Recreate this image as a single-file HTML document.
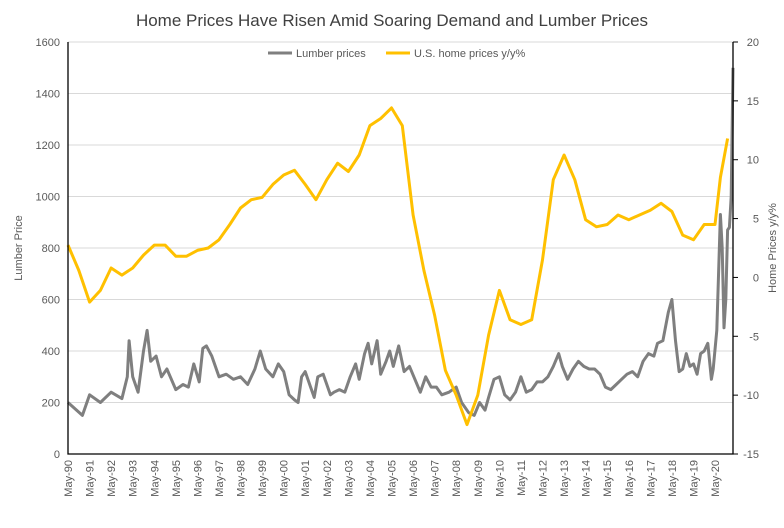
<!DOCTYPE html>
<html><head><meta charset="utf-8"><style>
body{margin:0;background:#fff;font-family:"Liberation Sans",sans-serif}
svg text{font-family:"Liberation Sans",sans-serif}
</style></head><body>
<svg id="c" width="784" height="523" xmlns="http://www.w3.org/2000/svg">
<text x="392" y="26" text-anchor="middle" font-size="17" fill="#404040">Home Prices Have Risen Amid Soaring Demand and Lumber Prices</text>
<g>
<line x1="268" y1="53" x2="292" y2="53" stroke="#7f7f7f" stroke-width="3"/>
<text x="296" y="57" font-size="11" fill="#595959">Lumber prices</text>
<line x1="386" y1="53" x2="410" y2="53" stroke="#ffc000" stroke-width="3"/>
<text x="414" y="57" font-size="11" fill="#595959">U.S. home prices y/y%</text>
</g>
<text transform="translate(22,248) rotate(-90)" text-anchor="middle" font-size="11" fill="#595959">Lumber Price</text>
<text transform="translate(776,248) rotate(-90)" text-anchor="middle" font-size="11" fill="#595959">Home Prices y/y%</text>
<g id="grid"></g><g id="series"></g><g id="axes"></g>
</svg>
<script>
const leftTicks=[0,200,400,600,800,1000,1200,1400,1600];
const rightTicks=[20,15,10,5,0,-5,-10,-15];
const yearLabels=["May-90","May-91","May-92","May-93","May-94","May-95","May-96","May-97","May-98","May-99","May-00","May-01","May-02","May-03","May-04","May-05","May-06","May-07","May-08","May-09","May-10","May-11","May-12","May-13","May-14","May-15","May-16","May-17","May-18","May-19","May-20"];
const homeDates=["1990-05","1990-11","1991-05","1991-11","1992-05","1992-11","1993-05","1993-11","1994-05","1994-11","1995-05","1995-11","1996-05","1996-11","1997-05","1997-11","1998-05","1998-11","1999-05","1999-11","2000-05","2000-11","2001-05","2001-11","2002-05","2002-11","2003-05","2003-11","2004-05","2004-11","2005-05","2005-11","2006-05","2006-11","2007-05","2007-11","2008-05","2008-11","2009-05","2009-11","2010-05","2010-11","2011-05","2011-11","2012-05","2012-11","2013-05","2013-11","2014-05","2014-11","2015-05","2015-11","2016-05","2016-11","2017-05","2017-11","2018-05","2018-11","2019-05","2019-11","2020-05","2020-08","2020-12"];
const homeValues=[2.75,0.6,-2.1,-1.1,0.8,0.2,0.8,1.9,2.75,2.75,1.8,1.8,2.3,2.5,3.2,4.5,5.9,6.6,6.8,7.9,8.7,9.1,7.9,6.6,8.3,9.7,9.0,10.4,12.9,13.5,14.4,12.9,5.3,0.6,-3.2,-7.9,-10,-12.5,-10,-4.9,-1.1,-3.6,-4.0,-3.6,1.5,8.3,10.4,8.3,4.9,4.3,4.5,5.3,4.9,5.3,5.7,6.3,5.6,3.6,3.2,4.5,4.5,8.5,11.8];
const lumberDates=["1990-05","1991-01","1991-05","1991-11","1992-05","1992-11","1993-02","1993-03","1993-05","1993-08","1993-11","1994-01","1994-03","1994-06","1994-09","1994-12","1995-05","1995-09","1995-12","1996-03","1996-06","1996-08","1996-10","1997-01","1997-05","1997-09","1998-01","1998-05","1998-09","1999-01","1999-04","1999-07","1999-11","2000-02","2000-05","2000-08","2000-11","2001-01","2001-03","2001-05","2001-08","2001-10","2001-12","2002-03","2002-07","2002-09","2002-12","2003-03","2003-06","2003-09","2003-11","2004-02","2004-04","2004-06","2004-09","2004-11","2005-02","2005-04","2005-06","2005-09","2005-12","2006-03","2006-06","2006-09","2006-12","2007-03","2007-06","2007-09","2008-01","2008-05","2008-08","2008-12","2009-03","2009-06","2009-09","2009-11","2010-02","2010-05","2010-08","2010-11","2011-02","2011-05","2011-08","2011-11","2012-02","2012-05","2012-08","2012-11","2013-02","2013-04","2013-07","2013-10","2014-01","2014-04","2014-07","2014-10","2015-01","2015-04","2015-07","2015-10","2016-01","2016-04","2016-07","2016-10","2017-01","2017-04","2017-07","2017-09","2017-12","2018-03","2018-05","2018-07","2018-09","2018-11","2019-01","2019-03","2019-05","2019-07","2019-09","2019-11","2020-01","2020-03","2020-04","2020-06","2020-08","2020-09","2020-10","2020-11","2020-12","2021-01","2021-02","2021-03"];
const lumberValues=[200,150,230,200,240,215,300,440,300,240,400,480,360,380,300,330,250,270,260,350,280,410,420,380,300,310,290,300,270,330,400,330,300,350,320,230,210,200,300,320,260,220,300,310,230,240,250,240,300,350,290,390,430,350,440,310,360,400,340,420,320,340,290,240,300,260,260,230,240,260,200,160,150,200,170,220,290,300,230,210,240,300,240,250,280,280,300,340,390,340,290,330,360,340,330,330,310,260,250,270,290,310,320,300,360,390,380,430,440,550,600,440,320,330,390,340,350,310,390,400,430,290,330,480,930,800,490,600,870,880,1000,1500];
const NS="http://www.w3.org/2000/svg";
const X0=68,X1=733,Y0=454,Y1=42;
function tnum(d){const[p,q]=d.split("-").map(Number);return p+(q-1)/12;}
const T0=tnum("1990-05"),T1=tnum("2021-03");
function xs(d){return X0+(tnum(d)-T0)/(T1-T0)*(X1-X0);}
function yl(v){return Y0-v/1600*(Y0-Y1);}
function yr(v){return Y0-(v+15)/35*(Y0-Y1);}
function mk(tag,a,parent){const e=document.createElementNS(NS,tag);for(const k in a)e.setAttribute(k,a[k]);parent.appendChild(e);return e;}
const grid=document.getElementById("grid"),axes=document.getElementById("axes"),series=document.getElementById("series");
leftTicks.forEach(v=>{
 if(v>0){const g=mk("line",{x1:X0,x2:X1,y1:yl(v),y2:yl(v),stroke:"#d9d9d9","stroke-width":1},grid);
 
 }
 const t=mk("text",{x:X0-8,y:yl(v)+4,"text-anchor":"end","font-size":11,fill:"#595959"},axes);t.textContent=v;
 
 
});
rightTicks.forEach(v=>{
 const l=mk("line",{x1:X1,x2:X1+5,y1:yr(v),y2:yr(v),stroke:"#000"},axes);
 
 
 const t=mk("text",{x:X1+26,y:yr(v)+4,"text-anchor":"end","font-size":11,fill:"#595959"},axes);t.textContent=v;
 
 
});
yearLabels.forEach((s,i)=>{
 const x=xs((1990+i)+"-05");
 const t=mk("text",{transform:`translate(${x+4},${Y0+6}) rotate(-90)`,"text-anchor":"end","font-size":11,fill:"#595959"},axes);t.textContent=s;
 
 
});
const ax=mk("path",{d:`M${X0},${Y1}V${Y0}H${X1}V${Y1}`,fill:"none",stroke:"#000","stroke-width":1.3},axes);


const lp=mk("path",{d:lumberDates.map((d,i)=>(i?"L":"M")+xs(d).toFixed(1)+","+yl(lumberValues[i]).toFixed(1)).join(""),fill:"none",stroke:"#7f7f7f","stroke-width":3,"stroke-linejoin":"round"},series);


const hp=mk("path",{d:homeDates.map((d,i)=>(i?"L":"M")+xs(d).toFixed(1)+","+yr(homeValues[i]).toFixed(1)).join(""),fill:"none",stroke:"#ffc000","stroke-width":3,"stroke-linejoin":"round"},series);


</script>
</body></html>
